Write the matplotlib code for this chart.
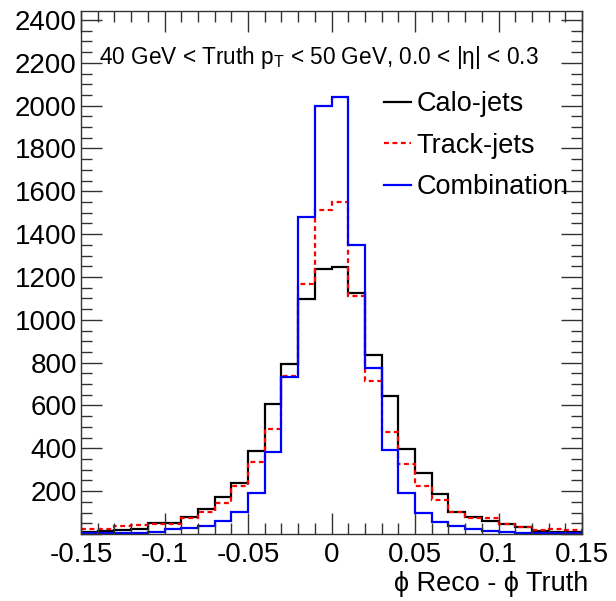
import numpy as np
import matplotlib
matplotlib.use("Agg")
import matplotlib.pyplot as plt
from matplotlib.ticker import MultipleLocator, FixedLocator

# ---- data ----
bin_low, bin_high, n_bins = -0.15, 0.15, 30
calo_jets = [11, 16, 19, 23, 52, 53, 80, 118, 171, 240, 389, 607, 794, 1097, 1237,
             1246, 1125, 836, 643, 399, 283, 187, 104, 81, 63, 49, 32, 16, 11, 9]
track_jets = [25, 25, 36, 42, 45, 45, 73, 101, 143, 222, 335, 489, 740, 1165, 1514,
              1550, 1109, 716, 475, 327, 224, 159, 104, 77, 74, 48, 33, 19, 24, 19]
combination = [6, 6, 7, 7, 8, 22, 26, 39, 61, 104, 193, 382, 735, 1478, 2000,
               2039, 1350, 773, 392, 191, 100, 58, 38, 23, 12, 9, 6, 5, 6, 6]
series_labels = ["Calo-jets", "Track-jets", "Combination"]
x_ticks = [-0.15, -0.1, -0.05, 0, 0.05, 0.1, 0.15]
x_tick_labels = ["-0.15", "-0.1", "-0.05", "0", "0.05", "0.1", "0.15"]
y_ticks = list(range(0, 2401, 200))
y_tick_labels = [""] + [str(v) for v in y_ticks[1:]]

FONT = ["Liberation Sans", "DejaVu Sans"]
plt.rcParams["font.family"] = FONT
plt.rcParams["mathtext.fontset"] = "custom"
plt.rcParams["mathtext.rm"] = "Liberation Sans"
plt.rcParams["mathtext.it"] = "Liberation Sans:italic"

W, H = 616, 601
fig = plt.figure(figsize=(W / 100, H / 100), dpi=100)
L, R, B, T = 81, 582, 534, 11
ax = fig.add_axes([L / W, 1 - B / H, (R - L) / W, (B - T) / H])

edges = np.linspace(bin_low, bin_high, n_bins + 1)
ax.stairs(calo_jets, edges, color="black", lw=1.6, baseline=None, label=series_labels[0])
ax.stairs(track_jets, edges, color="#ff0000", lw=1.6, baseline=None,
          linestyle=(0, (2.2, 1.6)), label=series_labels[1])
ax.stairs(combination, edges, color="#0000ff", lw=1.6, baseline=None, label=series_labels[2])

ax.set_xlim(bin_low, bin_high)
ax.set_ylim(0, 2442)

ax.xaxis.set_major_locator(FixedLocator(x_ticks))
ax.set_xticklabels(x_tick_labels)
ax.xaxis.set_minor_locator(MultipleLocator(0.01))
ax.yaxis.set_major_locator(FixedLocator(y_ticks))
ax.set_yticklabels(y_tick_labels)
ax.yaxis.set_minor_locator(MultipleLocator(50))

ax.tick_params(which="both", direction="in", top=True, right=True, colors="#333333",
               labelcolor="black", width=1.0)
ax.tick_params(axis="x", which="major", length=15, labelsize=20, pad=6)
ax.tick_params(axis="x", which="minor", length=8)
ax.tick_params(axis="y", which="major", length=15, labelsize=20, pad=3)
ax.tick_params(axis="y", which="minor", length=8)
for s in ax.spines.values():
    s.set_linewidth(1.0)
    s.set_color("#333333")

fig.text(99 / W, 1 - 64 / H,
         r"40 GeV < Truth $\mathrm{p}_{\mathrm{T}}$ < 50 GeV, 0.0 < |η| < 0.3",
         fontsize=16.3, ha="left", va="baseline")

fig.text(588 / W, 1 - 584 / H, "ϕ Reco - ϕ Truth", fontsize=19.5,
         ha="right", va="center")

leg = ax.legend(loc="upper left", bbox_to_anchor=(384 / W, 1 - 91 / H),
                bbox_transform=fig.transFigure, frameon=False, fontsize=19.5,
                handlelength=1.0, handletextpad=0.2, labelspacing=0.58,
                borderpad=0, borderaxespad=0)
for h in leg.get_lines():
    h.set_linewidth(1.6)

fig.savefig("out.png", dpi=100)
